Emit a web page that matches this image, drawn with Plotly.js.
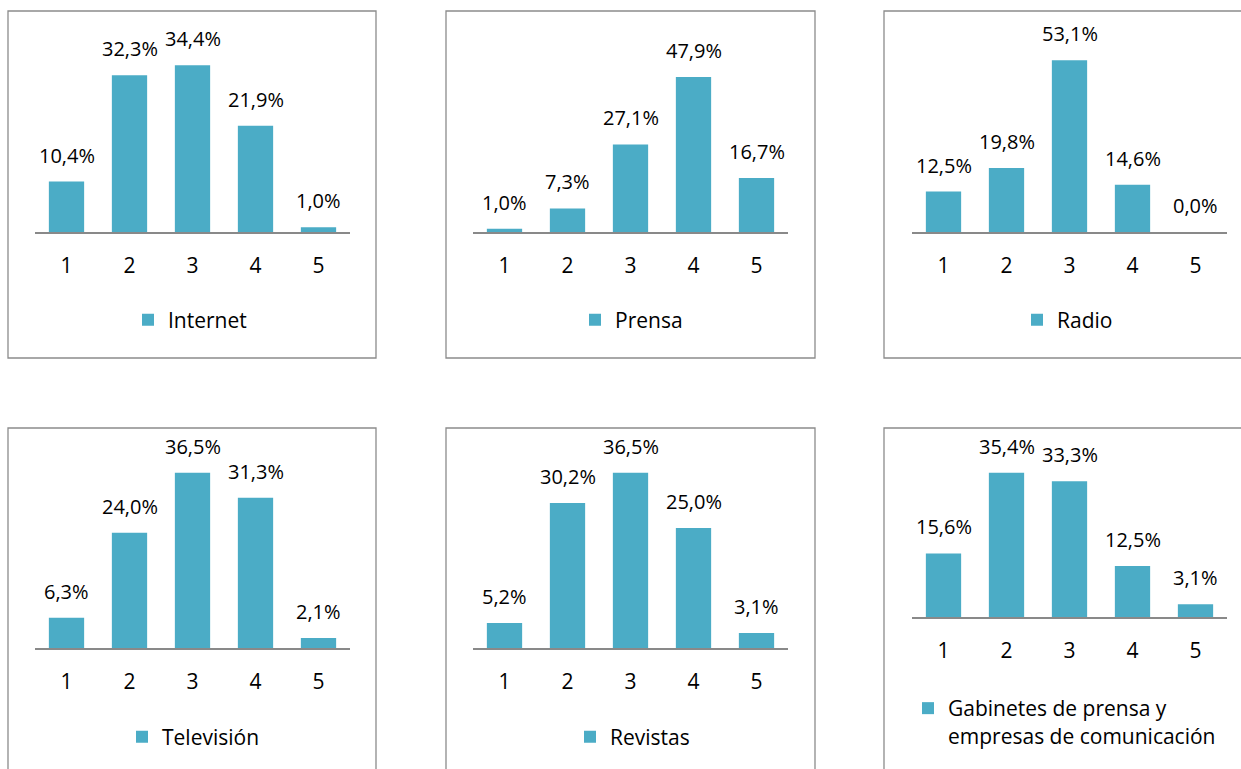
<!DOCTYPE html>
<html>
<head>
<meta charset="utf-8">
<script src="https://cdn.plot.ly/plotly-3.0.1.min.js"></script>
<style>
  html, body { margin: 0; padding: 0; background: #ffffff; }
  #chart { width: 1241px; height: 769px; }
</style>
</head>
<body>
<div id="chart"></div>
<script>
// ---- data ----
const categories = ['1', '2', '3', '4', '5'];
const internet   = [10.4, 32.3, 34.4, 21.9, 1.0];
const prensa     = [1.0, 7.3, 27.1, 47.9, 16.7];
const radio      = [12.5, 19.8, 53.1, 14.6, 0.0];
const television = [6.3, 24.0, 36.5, 31.3, 2.1];
const revistas   = [5.2, 30.2, 36.5, 25.0, 3.1];
const gabinetes  = [15.6, 35.4, 33.3, 12.5, 3.1];
const seriesNames = ['Internet', 'Prensa', 'Radio', 'Televisión', 'Revistas',
                     'Gabinetes de prensa y<br>empresas de comunicación'];
const seriesValues = [internet, prensa, radio, television, revistas, gabinetes];

// ---- layout geometry (pixels in a 1241x769 canvas) ----
const W = 1241, H = 769;
const BAR_COLOR = '#4BACC6';
const FONT = '"Open Sans", "Liberation Sans", sans-serif';
const panels = [
  { box: [8, 11, 376, 358],    plotX: [35, 350],   plotY: [38, 232], yMax: 40, leg: [128, 320] },
  { box: [446, 11, 815, 358],  plotX: [473, 788],  plotY: [38, 232], yMax: 60, leg: [575, 320] },
  { box: [884, 11, 1260, 358], plotX: [912, 1227], plotY: [38, 232], yMax: 60, leg: [1017, 320] },
  { box: [8, 428, 376, 800],   plotX: [35, 350],   plotY: [456, 648], yMax: 40, leg: [122, 737] },
  { box: [446, 428, 815, 800], plotX: [473, 788],  plotY: [456, 648], yMax: 40, leg: [570, 737] },
  { box: [884, 428, 1260, 800],plotX: [912, 1227], plotY: [454, 617], yMax: 40, leg: [908, 722] }
];

const fmt = v => v.toFixed(1).replace('.', ',') + '%';
const px = x => x / W;
const py = y => 1 - y / H;

const traces = [];
const layout = {
  width: W, height: H,
  margin: { l: 0, r: 0, t: 0, b: 0 },
  paper_bgcolor: '#ffffff',
  plot_bgcolor: 'rgba(0,0,0,0)',
  font: { family: FONT, color: '#000000' },
  bargap: 0.44,
  showlegend: true,
  shapes: [],
  annotations: []
};

panels.forEach((p, i) => {
  const n = i + 1;
  const xa = n === 1 ? 'x' : 'x' + n;
  const ya = n === 1 ? 'y' : 'y' + n;
  const legKey = n === 1 ? 'legend' : 'legend' + n;
  traces.push({
    type: 'bar',
    x: categories,
    y: seriesValues[i],
    name: seriesNames[i],
    xaxis: xa, yaxis: ya,
    legend: legKey,
    width: 0.56,
    marker: { color: BAR_COLOR, line: { width: 0 } },
    hoverinfo: 'skip'
  });
  layout[n === 1 ? 'xaxis' : 'xaxis' + n] = {
    domain: [px(p.plotX[0]), px(p.plotX[1])],
    anchor: ya,
    type: 'category',
    range: [-0.5, categories.length - 0.5],
    autorange: false,
    showline: true, linecolor: '#898989', linewidth: 1.5,
    showgrid: false, zeroline: false,
    ticks: '', ticklabelstandoff: 14,
    tickfont: { family: FONT, size: 21, color: '#000000' },
    fixedrange: true
  };
  layout[n === 1 ? 'yaxis' : 'yaxis' + n] = {
    domain: [py(p.plotY[1]), py(p.plotY[0])],
    anchor: xa,
    range: [0, p.yMax],
    autorange: false,
    visible: false, showgrid: false, zeroline: false,
    fixedrange: true
  };
  layout[legKey] = {
    x: px(p.leg[0]), y: py(p.leg[1]),
    xanchor: 'left', yanchor: 'middle',
    xref: 'paper', yref: 'paper',
    bgcolor: 'rgba(0,0,0,0)',
    borderwidth: 0,
    valign: 'top',
    font: { family: FONT, size: 21, color: '#000000' }
  };
  layout.shapes.push({
    type: 'rect', xref: 'paper', yref: 'paper',
    x0: px(p.box[0]), x1: px(p.box[2]),
    y0: py(p.box[3]), y1: py(p.box[1]),
    line: { color: '#8c8c8c', width: 1.3 },
    fillcolor: 'rgba(0,0,0,0)',
    layer: 'below'
  });
  seriesValues[i].forEach((v, k) => {
    layout.annotations.push({
      xref: xa, yref: ya,
      x: k, y: v,
      text: fmt(v),
      showarrow: false,
      xanchor: 'center', yanchor: 'bottom',
      yshift: 11,
      font: { family: FONT, size: 20, color: '#000000' }
    });
  });
});

Plotly.newPlot('chart', traces, layout, { staticPlot: true, displayModeBar: false });
</script>
</body>
</html>
